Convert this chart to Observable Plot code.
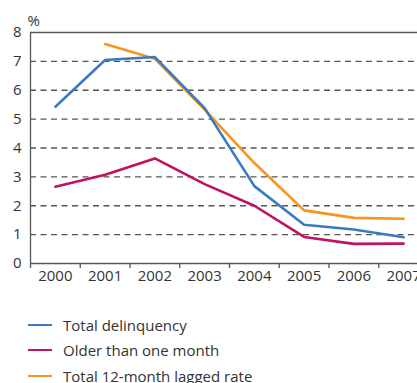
<!DOCTYPE html>
<html>
<head>
<meta charset="utf-8">
<script src="https://cdn.jsdelivr.net/npm/d3@7"></script>
<script src="https://cdn.jsdelivr.net/npm/@observablehq/plot@0.6"></script>
<style>
  html, body { margin: 0; padding: 0; background: #fff; overflow: hidden; }
  body { width: 417px; height: 383px; position: relative; font-family: "Open Sans", sans-serif; color: #333; }
  #legend { position: absolute; left: 28px; top: 312px; font-size: 15px; }
  .row { height: 25.5px; display: flex; align-items: center; }
  .row svg { margin-right: 11px; }
</style>
</head>
<body>
<div id="chart"></div>
<div id="legend"></div>
<script>
const years = [2000, 2001, 2002, 2003, 2004, 2005, 2006, 2007];
const totalDelinquency = [5.43, 7.05, 7.15, 5.38, 2.68, 1.34, 1.18, 0.91];
const olderThanOneMonth = [2.66, 3.07, 3.64, 2.75, 2.0, 0.92, 0.68, 0.69];
const lagged12Month = [null, 7.6, 7.09, 5.33, 3.48, 1.84, 1.58, 1.55];
const yTicks = [0, 1, 2, 3, 4, 5, 6, 7, 8];
const seriesNames = ["Total delinquency", "Older than one month", "Total 12-month lagged rate"];
const seriesColors = ["#3a7bc0", "#c0125e", "#f7951f"];

const rows = [];
years.forEach((yr, i) => {
  rows.push({year: yr, value: totalDelinquency[i], series: seriesNames[0]});
  rows.push({year: yr, value: olderThanOneMonth[i], series: seriesNames[1]});
  if (lagged12Month[i] != null) rows.push({year: yr, value: lagged12Month[i], series: seriesNames[2]});
});
const boundaries = years.map(y => y - 0.5).concat([years[years.length - 1] + 0.5]);
const gridVals = yTicks.filter(v => v > 0 && v < 8);

const chart = Plot.plot({
  width: 417,
  height: 290,
  marginLeft: 30,
  marginTop: 32,
  marginBottom: 27,
  marginRight: 0,
  style: {fontFamily: "'Open Sans', sans-serif", fontSize: "14px", color: "#333", background: "#fff"},
  x: {type: "linear", domain: [1999.5, 2007.5], range: [30, 428]},
  y: {domain: [0, 8]},
  marks: [
    Plot.ruleY(gridVals, {stroke: "#555", strokeWidth: 1.3, strokeDasharray: "6,4.5"}),
    Plot.ruleY([8], {stroke: "#555", strokeWidth: 1.3}),
    Plot.ruleY([0], {stroke: "#555", strokeWidth: 1.3}),
    Plot.ruleX([1999.5], {y1: 0, y2: 8, stroke: "#555", strokeWidth: 1.3}),
    Plot.axisX(boundaries, {tickSize: 5, tickFormat: () => "", stroke: "#555", strokeWidth: 1.3, label: null}),
    Plot.axisX(years, {tickSize: 0, tickPadding: 7, tickFormat: d => String(d), fontSize: 15, fill: "#333", label: null}),
    Plot.axisY(yTicks, {tickSize: 0, tickPadding: 9, fontSize: 15, fill: "#333", label: null}),
    Plot.text(["%"], {frameAnchor: "top-left", textAnchor: "start", dx: -3, dy: -17, fontSize: 15, fill: "#333"}),
    Plot.line(rows.filter(d => d.series === seriesNames[2]), {x: "year", y: "value", stroke: seriesColors[2], strokeWidth: 2.6}),
    Plot.line(rows.filter(d => d.series === seriesNames[1]), {x: "year", y: "value", stroke: seriesColors[1], strokeWidth: 2.6}),
    Plot.line(rows.filter(d => d.series === seriesNames[0]), {x: "year", y: "value", stroke: seriesColors[0], strokeWidth: 2.6})
  ]
});
document.getElementById("chart").appendChild(chart);

const legend = document.getElementById("legend");
seriesNames.forEach((name, i) => {
  const row = document.createElement("div");
  row.className = "row";
  row.innerHTML = `<svg width="24" height="4"><line x1="0" x2="24" y1="2" y2="2" stroke="${seriesColors[i]}" stroke-width="2"/></svg><span>${name}</span>`;
  legend.appendChild(row);
});
</script>
</body>
</html>
